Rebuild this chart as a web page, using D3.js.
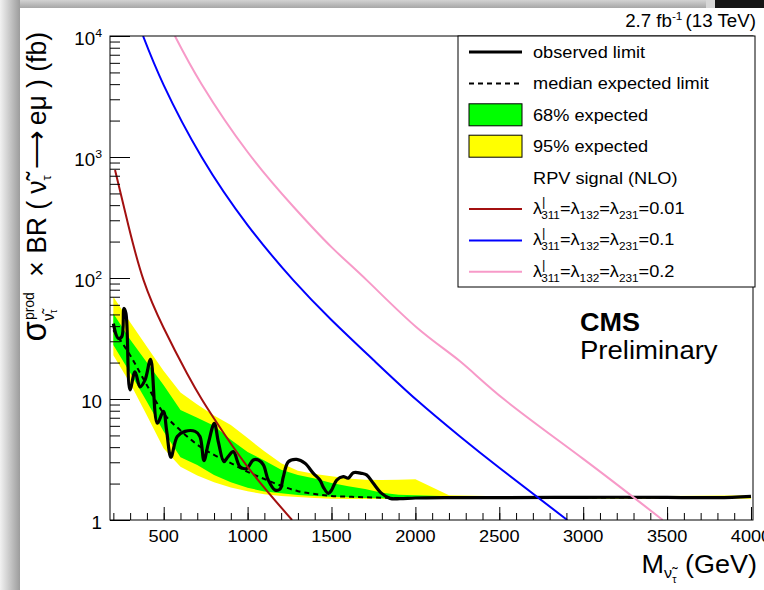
<!DOCTYPE html>
<html>
<head>
<meta charset="utf-8">
<script src="https://cdn.jsdelivr.net/npm/d3@7"></script>
<style>
body { margin: 0; background: #fff; }
svg { display: block; }
text { font-family: "Liberation Sans", Arial, sans-serif; fill: #000; }
</style>
</head>
<body>
<script>
// observed limit (fb) vs mass (GeV)
const obsMass = [200, 229, 250, 263, 275, 299, 329, 359, 389, 422, 462, 498, 518, 543, 581, 627, 687, 716, 740, 766, 802, 826, 859, 881, 915, 955, 995, 1034, 1064, 1094, 1123, 1163, 1193, 1213, 1243, 1293, 1342, 1392, 1431, 1451, 1481, 1500, 1531, 1570, 1600, 1630, 1680, 1709, 1749, 1799, 1849, 1908, 2000, 2200, 2500, 3000, 3500, 3800, 4000];
const obsLimit = [42, 31.7, 32.7, 56, 51, 11.9, 16.8, 12.6, 14.4, 21.3, 6.3, 7.9, 5.4, 3.3, 4.9, 5.4, 5.4, 4.9, 3.1, 4.3, 6.3, 4.4, 3.03, 3.3, 3.67, 2.75, 2.67, 3.13, 3.13, 2.85, 2.14, 1.77, 1.8, 2.28, 3.03, 3.17, 2.94, 2.43, 2.14, 1.87, 1.66, 1.76, 2.14, 2.28, 2.22, 2.46, 2.43, 2.36, 2.01, 1.66, 1.51, 1.5, 1.52, 1.53, 1.53, 1.54, 1.54, 1.53, 1.57];

// expected limit and bands
const expMass = [200, 300, 400, 500, 600, 700, 800, 900, 1000, 1100, 1200, 1300, 1400, 1500, 1600, 1700, 1800, 1900, 2000, 2200, 2500, 3000, 3500, 4000];
const expMedian = [37, 23, 13, 7.6, 5.5, 4.2, 3.45, 2.95, 2.5, 2.18, 1.92, 1.73, 1.64, 1.58, 1.56, 1.54, 1.53, 1.52, 1.52, 1.52, 1.52, 1.53, 1.54, 1.55];
const exp68Hi = [51, 31, 20, 13, 8.1, 7.0, 6.0, 4.6, 3.65, 3.1, 2.6, 2.35, 2.2, 2.02, 1.9, 1.8, 1.68, 1.62, 1.6, 1.57, 1.56, 1.57, 1.58, 1.58];
const exp68Lo = [27.9, 16.5, 9.5, 5.4, 3.3, 2.85, 2.35, 2.05, 1.85, 1.72, 1.66, 1.61, 1.58, 1.56, 1.54, 1.52, 1.51, 1.5, 1.5, 1.5, 1.5, 1.51, 1.52, 1.52];
const exp95Hi = [70, 43, 27, 17, 11.3, 9.0, 7.3, 6.1, 4.75, 3.7, 2.95, 2.55, 2.4, 2.3, 2.2, 2.15, 2.14, 2.15, 2.17, 1.6, 1.57, 1.57, 1.58, 1.6];
const exp95Lo = [23, 13.5, 7.3, 3.9, 2.75, 2.33, 2.05, 1.86, 1.73, 1.63, 1.58, 1.55, 1.52, 1.5, 1.49, 1.49, 1.49, 1.49, 1.49, 1.49, 1.49, 1.5, 1.5, 1.5];

// RPV signal cross sections
const sig001Mass = [210, 290, 380, 500, 640, 726, 800, 1000, 1265];
const sig001 = [781, 270, 96, 38.6, 16.2, 10, 6.9, 2.75, 1.0];
const sig01Mass = [377, 500, 726, 1000, 1272, 1500, 1750, 2008, 2266, 2500, 2905];
const sig01 = [10000, 3925, 1000, 274, 96, 45, 21, 9.8, 4.9, 2.7, 1.0];
const sig02Mass = [567, 726, 1000, 1272, 1500, 1710, 2008, 2266, 2534, 3000, 3474];
const sig02 = [10000, 4000, 1100, 390, 180, 96, 39, 20.5, 9.8, 3.2, 1.0];

const xMajor = [500, 1000, 1500, 2000, 2500, 3000, 3500, 4000];
const xMinor = d3.range(200, 4001, 100);
const yMajor = [1, 10, 100, 1000, 10000];
const yMinor = [];
[1, 10, 100, 1000].forEach(b => { for (let k = 2; k <= 9; k++) yMinor.push(b * k); });

const W = 764, H = 590;
const pL = 110, pR = 753, pT = 36, pB = 520;

const svg = d3.select('body').append('svg').attr('width', W).attr('height', H);
const defs = svg.append('defs');

// page shadow around the screenshot
const gl = defs.append('linearGradient').attr('id', 'shL').attr('x1', 0).attr('x2', 1).attr('y1', 0).attr('y2', 0);
gl.append('stop').attr('offset', 0).attr('stop-color', '#f2f2f2');
gl.append('stop').attr('offset', 1).attr('stop-color', '#9c9c9c');
const gt = defs.append('linearGradient').attr('id', 'shT').attr('x1', 0).attr('x2', 0).attr('y1', 0).attr('y2', 1);
gt.append('stop').attr('offset', 0).attr('stop-color', '#d2d2d2');
gt.append('stop').attr('offset', 1).attr('stop-color', '#a6a6a6');

svg.append('rect').attr('width', W).attr('height', H).attr('fill', '#fff');
svg.append('rect').attr('x', 0).attr('y', 0).attr('width', W).attr('height', 8).attr('fill', 'url(#shT)');
svg.append('rect').attr('x', 0).attr('y', 0).attr('width', 20).attr('height', H).attr('fill', 'url(#shL)');
svg.append('rect').attr('x', 706).attr('y', 0).attr('width', 9).attr('height', 8).attr('fill', '#d6d6d6');
svg.append('rect').attr('x', 715).attr('y', 0).attr('width', 49).attr('height', 8).attr('fill', '#151515');

defs.append('clipPath').attr('id', 'plot')
  .append('rect').attr('x', pL).attr('y', pT).attr('width', pR - pL).attr('height', pB - pT);

const x = d3.scaleLinear().domain([180, 4012]).range([pL, pR]);
const y = d3.scaleLog().domain([1, 1e4]).range([pB, pT]);

const plot = svg.append('g').attr('clip-path', 'url(#plot)');

const band = (lo, hi) => d3.area()
  .x((d, i) => x(expMass[i]))
  .y0((d, i) => y(lo[i]))
  .y1((d, i) => y(hi[i]));

plot.append('path').attr('d', band(exp95Lo, exp95Hi)(expMass)).attr('fill', '#ffff00');
plot.append('path').attr('d', band(exp68Lo, exp68Hi)(expMass)).attr('fill', '#00ff00');

const line = (ms, vs, curve) => d3.line()
  .x((d, i) => x(ms[i]))
  .y((d, i) => y(vs[i]))
  .curve(curve)(ms);

plot.append('path').attr('d', line(expMass, expMedian, d3.curveMonotoneX))
  .attr('fill', 'none').attr('stroke', '#000').attr('stroke-width', 2).attr('stroke-dasharray', '5,4');
plot.append('path').attr('d', line(obsMass, obsLimit, d3.curveCatmullRom))
  .attr('fill', 'none').attr('stroke', '#000').attr('stroke-width', 3.2).attr('stroke-linejoin', 'round');

const sigColors = ['#a31010', '#0000ff', '#f79ac8'];
[[sig001Mass, sig001], [sig01Mass, sig01], [sig02Mass, sig02]].forEach((s, i) => {
  plot.append('path').attr('d', line(s[0], s[1], d3.curveNatural))
    .attr('fill', 'none').attr('stroke', sigColors[i]).attr('stroke-width', 2);
});

// frame and axes
svg.append('rect').attr('x', pL).attr('y', pT).attr('width', pR - pL).attr('height', pB - pT)
  .attr('fill', 'none').attr('stroke', '#000').attr('stroke-width', 1);

const tickStyle = g => { g.select('.domain').remove(); g.selectAll('line').attr('stroke', '#000'); };
svg.append('g').attr('transform', `translate(0,${pB})`)
  .call(d3.axisBottom(x).tickValues(xMinor).tickSize(-7).tickFormat('')).call(tickStyle);
svg.append('g').attr('transform', `translate(0,${pB})`)
  .call(d3.axisBottom(x).tickValues(xMajor).tickSize(-13).tickFormat('')).call(tickStyle);
svg.append('g').attr('transform', `translate(${pL},0)`)
  .call(d3.axisLeft(y).tickValues(yMinor).tickSize(-10).tickFormat('')).call(tickStyle);
svg.append('g').attr('transform', `translate(${pL},0)`)
  .call(d3.axisLeft(y).tickValues(yMajor).tickSize(-20).tickFormat('')).call(tickStyle);

function label(px, py, size, anchor, sx) {
  return svg.append('text')
    .attr('transform', `translate(${px},${py}) scale(${sx || 1.07},1)`)
    .attr('font-size', size).attr('text-anchor', anchor);
}

xMajor.forEach(v => label(x(v), 542, 17, 'middle').text(v));
yMajor.forEach(v => {
  const t = label(102, y(v) + 9, 17.5, 'end');
  if (v < 100) { t.text(v); return; }
  t.append('tspan').text('10');
  t.append('tspan').attr('font-size', 11.5).attr('dy', -8).text(Math.log10(v));
});

// axis titles
const xt = label(757, 573, 25, 'end', 1.08);
xt.append('tspan').text('M');
xt.append('tspan').attr('font-size', 15).attr('dy', 5).text('ν\u0303');
xt.append('tspan').attr('font-size', 10).attr('dy', 5).text('τ');
xt.append('tspan').attr('dy', -10).attr('dx', 8).text('(GeV)');

const yt = svg.append('text')
  .attr('transform', 'translate(46,32) rotate(-90) scale(1,1.04)')
  .attr('font-size', 26.5).attr('text-anchor', 'end');
yt.append('tspan').attr('font-size', 33).text('σ');
yt.append('tspan').attr('font-size', 14).attr('dy', -12).attr('dx', 1).text('prod');
yt.append('tspan').attr('font-size', 15).attr('dy', 20).attr('dx', -29).text('ν\u0303');
yt.append('tspan').attr('font-size', 10).attr('dy', 3).text('τ');
yt.append('tspan').attr('dy', -11).attr('dx', 33).text('× BR (');
yt.append('tspan').attr('dx', 7).text('ν\u0303');
yt.append('tspan').attr('font-size', 13).attr('dy', 5).text('τ');
yt.append('tspan').attr('dy', -5).attr('dx', 6).text('⟶');
yt.append('tspan').attr('dx', 6).text('eμ ) (fb)');

// lumi and CMS labels
const lumi = label(756, 27, 17.5, 'end');
lumi.append('tspan').text('2.7 fb');
lumi.append('tspan').attr('font-size', 11).attr('dy', -7).text('-1');
lumi.append('tspan').attr('dy', 7).attr('dx', 3).text('(13 TeV)');

label(580, 331, 25, 'start', 1.08).attr('font-weight', 'bold').text('CMS');
label(580, 359, 25.5, 'start', 1.08).text('Preliminary');

// legend
const lg = svg.append('g');
lg.append('rect').attr('x', 458).attr('y', pT).attr('width', 297).attr('height', 251)
  .attr('fill', '#fff').attr('stroke', '#000').attr('stroke-width', 1);
const rowY = i => 52 + i * 31.4;
const sx0 = 469, sx1 = 522, tx = 533;

lg.append('line').attr('x1', sx0).attr('x2', sx1).attr('y1', rowY(0)).attr('y2', rowY(0))
  .attr('stroke', '#000').attr('stroke-width', 3.2);
lg.append('line').attr('x1', sx0).attr('x2', sx1).attr('y1', rowY(1)).attr('y2', rowY(1))
  .attr('stroke', '#000').attr('stroke-width', 2).attr('stroke-dasharray', '5,4');
lg.append('rect').attr('x', sx0).attr('y', rowY(2) - 11).attr('width', sx1 - sx0).attr('height', 22)
  .attr('fill', '#00ff00').attr('stroke', '#000');
lg.append('rect').attr('x', sx0).attr('y', rowY(3) - 11).attr('width', sx1 - sx0).attr('height', 22)
  .attr('fill', '#ffff00').attr('stroke', '#000');
sigColors.forEach((c, i) => {
  lg.append('line').attr('x1', sx0).attr('x2', sx1).attr('y1', rowY(5 + i)).attr('y2', rowY(5 + i))
    .attr('stroke', c).attr('stroke-width', 2);
});

const legText = ['observed limit', 'median expected limit', '68% expected', '95% expected', 'RPV signal (NLO)'];
legText.forEach((s, i) => label(tx, rowY(i) + 6, 17, 'start').text(s));
['0.01', '0.1', '0.2'].forEach((v, i) => {
  const t = label(tx, rowY(5 + i) + 5, 17, 'start');
  t.append('tspan').text('λ');
  t.append('tspan').attr('font-size', 12).attr('dy', -8).text('|');
  t.append('tspan').attr('font-size', 11).attr('dy', 13).attr('dx', -4).text('311');
  t.append('tspan').attr('dy', -5).text('=λ');
  t.append('tspan').attr('font-size', 11).attr('dy', 5).text('132');
  t.append('tspan').attr('dy', -5).text('=λ');
  t.append('tspan').attr('font-size', 11).attr('dy', 5).text('231');
  t.append('tspan').attr('dy', -5).text('=' + v);
});
</script>
</body>
</html>
